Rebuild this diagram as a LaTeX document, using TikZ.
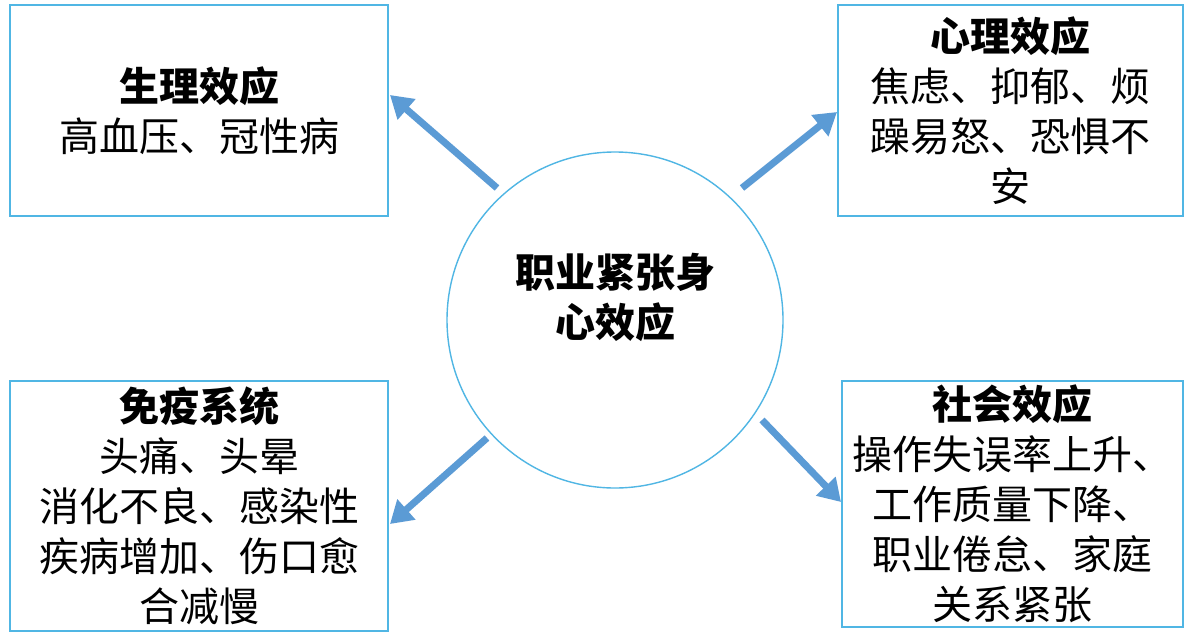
\documentclass[tikz,border=0pt]{standalone}
\usepackage{fontspec}
\setmainfont{Noto Sans CJK SC}
\usetikzlibrary{arrows.meta}
\definecolor{boxline}{RGB}{80,182,228}
\definecolor{arrowc}{RGB}{91,155,213}
\tikzset{
  box/.style={draw=boxline, line width=1.6pt, rectangle, inner sep=0pt, align=center,
    font=\fontsize{40pt}{50pt}\selectfont},
  conn/.style={draw=arrowc, line width=7pt, -{Triangle[length=22pt,width=26pt]}, shorten >=0pt},
}
\begin{document}
\begin{tikzpicture}[x=1pt,y=-1pt]
\useasboundingbox (0,0) rectangle (1193,637);
\fill[white] (0,0) rectangle (1193,637);
\node[draw=boxline, line width=1.4pt, circle, minimum size=336pt, inner sep=0pt] (c) at (615,320) {};
\node[font=\fontsize{40pt}{50pt}\selectfont\bfseries, align=center] (ct) at (615,297) {职业紧张身\\心效应};
\node[box, minimum width=378pt, minimum height=211pt] (tl) at (199,110.5) {{\bfseries 生理效应}\\高血压、冠性病};
\node[box, minimum width=345pt, minimum height=211pt] (tr) at (1010.5,110.5) {{\bfseries 心理效应}\\焦虑、抑郁、烦\\躁易怒、恐惧不\\安};
\node[box, minimum width=378pt, minimum height=250pt] (bl) at (199,506) {{\bfseries 免疫系统}\\头痛、头晕\\消化不良、感染性\\疾病增加、伤口愈\\合减慢};
\node[box, minimum width=341pt, minimum height=246pt] (br) at (1012.5,504) {{\bfseries 社会效应}\\操作失误率上升、\\工作质量下降、\\职业倦怠、家庭\\关系紧张};
\coordinate (s1) at (497,188);
\coordinate (e1) at (390,95);
\coordinate (s2) at (742,188);
\coordinate (e2) at (837,112);
\coordinate (s3) at (487,438);
\coordinate (e3) at (390,524);
\coordinate (s4) at (762,420);
\coordinate (e4) at (841,502);
\draw[conn] (s1) -- (e1);
\draw[conn] (s2) -- (e2);
\draw[conn] (s3) -- (e3);
\draw[conn] (s4) -- (e4);
\end{tikzpicture}
\end{document}
